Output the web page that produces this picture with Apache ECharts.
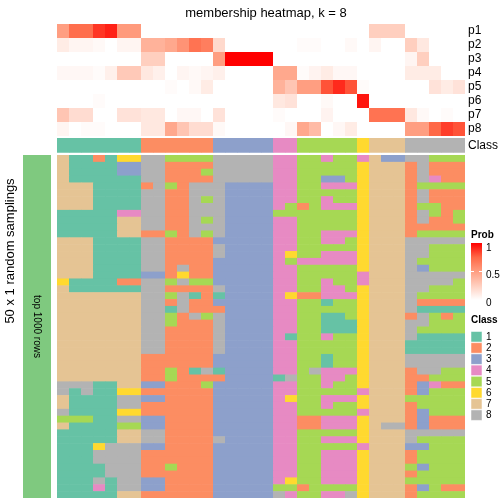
<!DOCTYPE html>
<html><head><meta charset="utf-8">
<script src="https://cdn.jsdelivr.net/npm/echarts@6/dist/echarts.min.js"></script>
<style>html,body{margin:0;padding:0;background:#fff}#c{width:504px;height:504px}</style>
</head><body><div id="c"></div><script>
// ---- data ----
const probNames = ['p1','p2','p3','p4','p5','p6','p7','p8'];
const p1 = [0.5,0.72,0.72,0.87,0.92,0.52,0.52,0,0,0,0,0,0,0,0,0,0,0,0,0,0,0,0,0,0,0,0.25,0.25,0.25,0,0,0,0,0];
const p2 = [0.1,0.05,0.05,0.03,0,0.05,0.05,0.4,0.4,0.45,0.55,0.7,0.65,0.2,0,0,0,0,0,0,0.02,0.02,0,0,0.03,0,0.05,0,0,0.25,0.12,0,0,0];
const p3 = [0,0,0,0,0,0,0,0.25,0.25,0,0,0,0,0.5,1,1,1,1,0,0,0,0,0,0,0,0,0,0,0,0.05,0.25,0,0,0];
const p4 = [0.04,0.04,0.04,0.02,0.08,0.28,0.28,0.12,0.08,0,0.05,0.03,0.05,0.08,0,0,0,0,0.45,0.45,0.02,0.06,0.1,0.04,0.04,0,0,0,0,0.1,0.1,0.1,0,0];
const p5 = [0,0,0,0,0,0,0,0,0,0.02,0,0.03,0.1,0,0,0,0,0,0.4,0.3,0.5,0.5,0.8,0.9,0.8,0.02,0,0,0,0,0,0.15,0.1,0.15];
const p6 = [0,0,0,0.02,0,0,0,0,0,0,0,0,0,0,0,0,0,0,0.12,0.15,0,0,0.03,0,0,0.95,0,0,0,0,0,0,0,0];
const p7 = [0.3,0.18,0.18,0,0,0.15,0.15,0.12,0.12,0,0.04,0.04,0,0.15,0,0,0,0,0.02,0,0,0,0.06,0,0,0,0.7,0.7,0.7,0.12,0.03,0,0.02,0];
const p8 = [0.05,0,0.02,0.02,0,0,0,0.12,0.12,0.45,0.3,0.18,0.18,0.03,0,0,0,0,0,0.04,0.45,0.35,0,0.04,0.1,0,0,0,0,0.5,0.5,0.75,0.85,0.8];
const columnClass = [1,1,1,1,1,1,1,2,2,2,2,2,2,3,3,3,3,3,4,4,5,5,5,5,5,6,7,7,7,8,8,8,8,8];
// 50 random samplings x 34 columns, class per cell
const samplingRows = [
'7112166885555888884455455473388555',
'7111133882222888884455555677728222',
'7111133882225888884455555677728222',
'7111111882222888884455335677728422',
'7771111285288833334455444677725555',
'7771111882288833334455555677728222',
'7771111882285833334455455677728222',
'7771111882288833334525444677725522',
'1111144882288833335555555677728525',
'1111177882285833334455555677728225',
'1111177882288833334455555677722222',
'1111177225285833334455444677725555',
'7771111882222333334455445677788888',
'7771111882222833334455555677788555',
'7771111882222833334655444677788555',
'7771111882222333334544444677785555',
'7771111882822333334455555677783555',
'7771111332622333334455555477788888',
'6111122885855333334455455477788885',
'7111111882222833334455445677788555',
'7777777885812133334622444677785555',
'7777777882822333334455155677782222',
'7777777881822233334455555677781111',
'7777777885285833334455115677728525',
'7777777885222833334455111677788555',
'7777777882222833334455111677785555',
'7777777882222833334155455677781111',
'7777777882222833334455555677711111',
'7777777882222833334455555677711111',
'7777777222222333334455155677788888',
'7777777222222333334455155677788888',
'7777777225218133334458444677728855',
'7777777225222233331855445677722555',
'8881177332225333334455455677723422',
'8181166222222333334455555477723555',
'7111188332222333334655444677755555',
'7111188222222333334455455677725555',
'8111166222222333334455555477723555',
'5551188332222333334422444677723222',
'7111155332222333334422444678823222',
'1111177882222333334455555677788888',
'1111177882222833334455444677785555',
'1116888332222333334455555477733555',
'1118888222222333334455444677725555',
'1118888222222333334455444677725555',
'1111888225222333334455444677753555',
'1111888222222333334455444677725555',
'1118188332222333334655444677755555',
'1114188332222333335525555677723522',
'1111177222222333338455448677725555'
];
const classNames = ['1','2','3','4','5','6','7','8'];
const classColors = ['#66C2A5','#FC8D62','#8DA0CB','#E78AC3','#A6D854','#FFD92F','#E5C494','#B3B3B3'];
const probTickLabels = ['1','0.5','0'];
const probColors = ['#FFFFFF','#FFCFBF','#FF9E81','#FF6846','#FF0000'];
const sideLabel = 'top 1000 rows';

// ---- build ----
const probArrays = [p1,p2,p3,p4,p5,p6,p7,p8];
const nCol = columnClass.length;
const colCats = columnClass.map((_, i) => 'c' + (i + 1));
const rowCats = samplingRows.map((_, i) => 'r' + (i + 1));
const probData = [];
probArrays.forEach((arr, r) => arr.forEach((v, c) => probData.push([c, r, v])));
const classData = columnClass.map((v, c) => [c, 0, v]);
const mainData = [];
samplingRows.forEach((s, r) => { for (let c = 0; c < nCol; c++) mainData.push([c, r, +s[c]]); });

const FONT = 'Liberation Sans, Arial, Helvetica, sans-serif';
const L = 57, W = 408;
const chart = echarts.init(document.getElementById('c'), null, {renderer: 'canvas'});

function cellRender(params, api) {
  const p = api.coord([api.value(0), api.value(1)]);
  const s = api.size([1, 1]);
  return {type: 'rect',
    shape: {x: p[0] - s[0] / 2, y: p[1] - s[1] / 2, width: s[0] + 0.4, height: s[1] + 0.6},
    style: {fill: api.visual('color'), stroke: null}};
}
const cellSeries = (gi, data) => ({type: 'custom', xAxisIndex: gi, yAxisIndex: gi, data: data,
  encode: {x: 0, y: 1}, renderItem: cellRender, clip: true, silent: true});

const catAxis = (gi, data, extra) => Object.assign({
  type: 'category', gridIndex: gi, data: data,
  axisLine: {show: false}, axisTick: {show: false}, axisLabel: {show: false}, splitLine: {show: false}
}, extra || {});

const legendGraphics = [];
legendGraphics.push({type: 'text', left: 471, top: 230, style: {text: 'Prob', font: 'bold 10px ' + FONT, fill: '#000'}});
legendGraphics.push({type: 'rect', shape: {x: 471, y: 243, width: 11, height: 57},
  style: {fill: new echarts.graphic.LinearGradient(0, 0, 0, 1, probColors.slice().reverse().map((c, i, a) => ({offset: i / (a.length - 1), color: c})))}});
legendGraphics.push({type: 'line', shape: {x1: 471, y1: 271.5, x2: 474, y2: 271.5}, style: {stroke: '#fff', lineWidth: 1}});
legendGraphics.push({type: 'line', shape: {x1: 479, y1: 271.5, x2: 482, y2: 271.5}, style: {stroke: '#fff', lineWidth: 1}});
probTickLabels.forEach((t, i) => legendGraphics.push({type: 'text', x: 486, y: 248 + i * 27.5,
  style: {text: t, font: '10px ' + FONT, fill: '#000', verticalAlign: 'middle'}}));
legendGraphics.push({type: 'text', left: 471, top: 315, style: {text: 'Class', font: 'bold 10px ' + FONT, fill: '#000'}});
classNames.forEach((n, i) => {
  legendGraphics.push({type: 'rect', shape: {x: 471, y: 331.5 + i * 11.2, width: 11, height: 10.5},
    style: {fill: classColors[i], stroke: '#ffffff', lineWidth: 0.5}});
  legendGraphics.push({type: 'text', x: 486, y: 337 + i * 11.2,
    style: {text: n, font: '10px ' + FONT, fill: '#000', verticalAlign: 'middle'}});
});

chart.setOption({
  animation: false,
  backgroundColor: '#fff',
  title: {text: 'membership heatmap, k = 8', left: 261, top: 2, textAlign: 'center',
    textStyle: {fontFamily: FONT, fontSize: 13, fontWeight: 'normal', color: '#000'}},
  grid: [
    {left: L, top: 24, width: W, height: 112},
    {left: L, top: 138, width: W, height: 14.7},
    {left: L, top: 155, width: W, height: 343},
    {left: 23, top: 155, width: 28, height: 343}
  ],
  xAxis: [catAxis(0, colCats), catAxis(1, colCats), catAxis(2, colCats),
    {type: 'category', gridIndex: 3, data: [sideLabel], show: false}],
  yAxis: [
    catAxis(0, probNames, {inverse: true, position: 'right',
      axisLabel: {show: true, interval: 0, margin: 3, fontFamily: FONT, fontSize: 12, color: '#000'}}),
    catAxis(1, ['Class'], {position: 'right',
      axisLabel: {show: true, interval: 0, margin: 3, fontFamily: FONT, fontSize: 12, color: '#000'}}),
    catAxis(2, rowCats, {inverse: true}),
    {type: 'value', gridIndex: 3, min: 0, max: 1, show: false}
  ],
  visualMap: [
    {type: 'continuous', min: 0, max: 1, dimension: 2, seriesIndex: 0, show: false, inRange: {color: probColors}},
    {type: 'piecewise', dimension: 2, seriesIndex: [1, 2], show: false,
      pieces: classNames.map((n, i) => ({value: i + 1, color: classColors[i]}))}
  ],
  series: [
    cellSeries(0, probData),
    cellSeries(1, classData),
    cellSeries(2, mainData),
    {type: 'bar', xAxisIndex: 3, yAxisIndex: 3, data: [1], barWidth: '100%', silent: true,
      itemStyle: {color: '#7FC97F'},
      label: {show: true, position: 'inside', rotate: -90, formatter: sideLabel,
        fontFamily: FONT, fontSize: 10, color: '#000', align: 'center', verticalAlign: 'middle'}}
  ],
  graphic: [
    {type: 'text', x: 10, y: 251, rotation: Math.PI / 2,
      style: {text: '50 x 1 random samplings', font: '13px ' + FONT, fill: '#000', align: 'center', verticalAlign: 'middle'}}
  ].concat(legendGraphics)
});
</script></body></html>
